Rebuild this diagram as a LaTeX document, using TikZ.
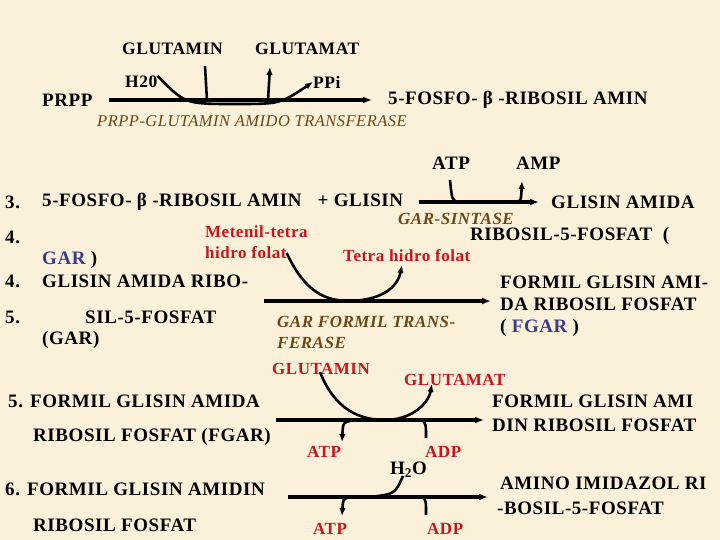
\documentclass[tikz,border=0pt]{standalone}
\usepackage{fontspec}
\setmainfont{Liberation Serif}[LetterSpace=3]
\usepackage{xcolor}
\usepackage{tikz}
\usetikzlibrary{arrows.meta}

\definecolor{paper}{HTML}{FBF1DA}
\definecolor{redtext}{HTML}{C8161D}
\definecolor{garblue}{HTML}{3C3C8C}
\definecolor{enzbrown}{HTML}{6B4816}

\begin{document}
\begin{tikzpicture}[
    x=1pt, y=-1pt,
    txt/.style={anchor=west, inner sep=0pt, font=\bfseries\fontsize{19}{22}\selectfont},
    smalltxt/.style={txt, font=\bfseries\fontsize{17.5}{20}\selectfont},
    redtxt/.style={txt, text=redtext, font=\bfseries\fontsize{17}{20}\selectfont},
    enz/.style={anchor=west, inner sep=0pt, text=enzbrown, font=\bfseries\itshape\fontsize{17}{20}\selectfont},
    rxn/.style={line width=4pt, -{Latex[length=9pt,width=7pt]}},
    side/.style={line width=2.6pt},
    sidearr/.style={side, -{Latex[length=8pt,width=6.5pt]}}
    ]
    \fill[paper] (0,0) rectangle (720,540);
    \useasboundingbox (0,0) rectangle (720,540);

    % step 1
    \node[smalltxt] (glutamin1) at (122,49) {GLUTAMIN};
    \node[smalltxt] (glutamat1) at (255,49) {GLUTAMAT};
    \node[smalltxt] (h2o1) at (125,82) {H20};
    \node[smalltxt] (ppi1) at (313,82) {PPi};
    \node[txt] (prpp) at (42,100) {PRPP};
    \node[txt] (fosfo1) at (388,100) {5-FOSFO- β -RIBOSIL AMIN};
    \node[enz, font=\itshape\fontsize{16.5}{20}\selectfont] (enz1) at (97,121) {PRPP-GLUTAMIN AMIDO TRANSFERASE};
    \coordinate (g1in) at (205,66);
    \coordinate (g1on) at (207,101);
    \coordinate (g1out) at (268,100);
    \coordinate (g1top) at (270,67);

    \draw[rxn, shorten <=16pt, shorten >=16pt] (prpp.east) -- (fosfo1.west);
    \draw[side] (g1in) -- (g1on);
    \draw[sidearr] (g1out) -- (g1top);
    \draw[
        sidearr
        ] (h2o1.north east) .. controls (185,104) .. (235,104)
                      .. controls (280,104) .. (ppi1.west);

    % step 3
    \node[txt] (atp1) at (432,163) {ATP};
    \node[txt] (amp1) at (516,163) {AMP};
    \node[txt] (n3) at (5,202) {3.};
    \node[txt] (fosfo2) at (42,202) {5-FOSFO- β -RIBOSIL AMIN\hspace{16pt}+ GLISIN};
    \node[txt] (glisinamida) at (551,202) {GLISIN AMIDA};
    \node[enz] (gars) at (398,219) {GAR-SINTASE};
    \coordinate (a1in) at (450,180);
    \coordinate (a1on) at (459,203);
    \coordinate (a1out) at (515,203);
    \coordinate (a1top) at (522,181);

    \draw[rxn, shorten <=16pt, shorten >=12pt] (fosfo2.east) -- (glisinamida.west);
    \draw[side] (a1in) .. controls (452,200) .. (a1on);
    \draw[sidearr] (a1out) .. controls (521,201) .. (a1top);

    % step 4
    \node[txt] (n4a) at (5,237) {4.};
    \node[redtxt] (metenil) at (205,232) {Metenil-tetra};
    \node[redtxt] (hidro) at (205,253) {hidro folat};
    \node[txt] (ribosil5) at (470,236) {RIBOSIL-5-FOSFAT \ (};
    \node[redtxt] (thf) at (343,256) {Tetra hidro folat};
    \node[txt] (gar) at (42,260) {\textcolor{garblue}{GAR} )};
    \node[txt] (n4b) at (5,281) {4.};
    \node[txt] (glisinribo) at (42,281) {GLISIN AMIDA RIBO-};
    \node[txt] (fgar1) at (500,282) {FORMIL GLISIN AMI-};
    \node[txt] (fgar2) at (500,304) {DA RIBOSIL FOSFAT};
    \node[txt] (fgar3) at (500,328) {( \textcolor{garblue}{FGAR} )};
    \node[txt] (n5a) at (5,317) {5.};
    \node[txt] (sil5) at (85,317) {SIL-5-FOSFAT};
    \node[txt] (gar2) at (42,340) {(GAR)};
    \node[enz] (garft1) at (277,322) {GAR FORMIL TRANS-};
    \node[enz] (garft2) at (277,343) {FERASE};
    \coordinate (r4start) at (264,301);
    \coordinate (r4end) at (491,301);

    \draw[rxn] (r4start) -- (r4end);
    \draw[
        sidearr
        ] (hidro.east) .. controls (305,292) and (325,301) .. (350,301)
                       .. controls (385,300) and (398,285) .. (402,265);

    % step 5
    \node[redtxt] (glutamin2) at (272,369) {GLUTAMIN};
    \node[redtxt] (glutamat2) at (404,380) {GLUTAMAT};
    \node[txt] (n5b) at (8,401) {5. FORMIL GLISIN AMIDA};
    \node[txt] (fgar4) at (33,437) {RIBOSIL FOSFAT (FGAR)};
    \node[txt] (fgam1) at (492,401) {FORMIL GLISIN AMI};
    \node[txt] (fgam2) at (492,425) {DIN RIBOSIL FOSFAT};
    \node[redtxt] (atp2) at (307,452) {ATP};
    \node[redtxt] (adp2) at (425,452) {ADP};
    \coordinate (r5start) at (276,420);
    \coordinate (r5end) at (484,420);
    \coordinate (atp2top) at (342,442);
    \coordinate (adp2top) at (426,438);

    \draw[rxn] (r5start) -- (r5end);
    \draw[
        sidearr
        ] (320,372) .. controls (335,410) and (360,420) .. (385,420)
                    .. controls (410,420) and (428,405) .. (432,384);
    \draw[sidearr] (355,420) .. controls (343,422) .. (atp2top);
    \draw[side] (422,420) .. controls (426,424) .. (adp2top);

    % step 6
    \node[txt] (h2o2) at (390,470) {H\textsubscript{2}O};
    \node[txt] (n6) at (5,489) {6. FORMIL GLISIN AMIDIN};
    \node[txt] (rf) at (33,525) {RIBOSIL FOSFAT};
    \node[txt] (air1) at (500,483) {AMINO IMIDAZOL RI};
    \node[txt] (air2) at (497,508) {-BOSIL-5-FOSFAT};
    \node[redtxt] (atp3) at (313,529) {ATP};
    \node[redtxt] (adp3) at (427,529) {ADP};
    \coordinate (r6start) at (288,497);
    \coordinate (r6end) at (488,497);
    \coordinate (h2o2low) at (403,476);
    \coordinate (atp3top) at (342,516);
    \coordinate (adp3top) at (426,515);

    \draw[rxn] (r6start) -- (r6end);
    \draw[side] (370,497) .. controls (395,494) .. (h2o2low);
    \draw[sidearr] (350,497) .. controls (343,499) .. (atp3top);
    \draw[side] (422,497) .. controls (426,500) .. (adp3top);
\end{tikzpicture}
\end{document}
